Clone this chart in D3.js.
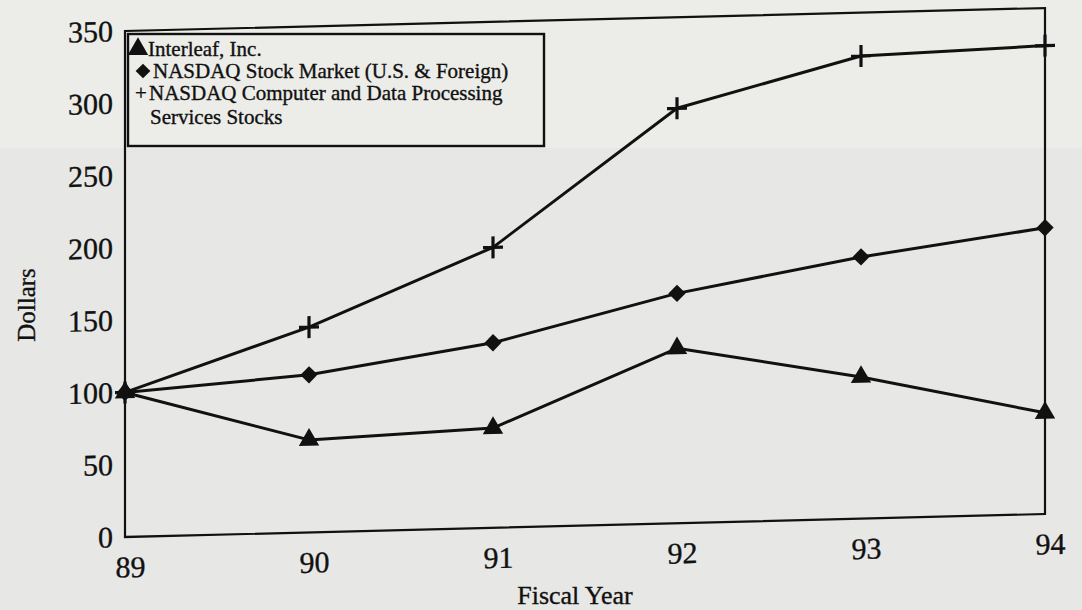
<!DOCTYPE html>
<html>
<head>
<meta charset="utf-8">
<script src="https://cdn.jsdelivr.net/npm/d3@7"></script>
<style>
  html, body { margin: 0; padding: 0; background: #e8e8e6; }
  svg { display: block; }
  text { font-family: "Liberation Serif", "Times New Roman", serif; fill: #111; stroke: #111; stroke-width: 0.35px; }
</style>
</head>
<body>
<svg id="chart" width="1082" height="610"></svg>
<script>
// ---- data ----
const years = ["89", "90", "91", "92", "93", "94"];
const interleaf = [100, 64, 69, 121, 98, 70];
const nasdaq = [100, 109, 128, 159, 181, 198];
const computerStocks = [100, 142, 194, 287, 320, 324];
const yTicks = [0, 50, 100, 150, 200, 250, 300, 350];
const legendLabels = [
  "Interleaf, Inc.",
  "NASDAQ Stock Market (U.S. & Foreign)",
  "NASDAQ Computer and Data Processing",
  "Services Stocks"
];

// ---- layout ----
const W = 1082, H = 610;
const pLeft = 125, pRight = 1045, pTop = 31, pBottom = 537;
const ink = "#111";

const svg = d3.select("#chart");
svg.append("rect").attr("width", W).attr("height", H).attr("fill", "#e7e7e5");
svg.append("rect").attr("x", 0).attr("y", 0).attr("width", W).attr("height", 148).attr("fill", "#ecece8");

const x = d3.scalePoint().domain(years).range([pLeft, pRight]).padding(0);
const y = d3.scaleLinear().domain([0, 350]).range([pBottom, pTop]);

// slight tilt of the scanned page
const g = svg.append("g")
  .attr("transform", `translate(${pLeft},${pBottom}) skewY(-1.43) translate(${-pLeft},${-pBottom})`);

// plot frame
g.append("rect")
  .attr("x", pLeft).attr("y", pTop)
  .attr("width", pRight - pLeft).attr("height", pBottom - pTop)
  .attr("fill", "none").attr("stroke", ink).attr("stroke-width", 2.2);

// y axis labels
const yAxis = d3.axisLeft(y).tickValues(yTicks).tickSize(0).tickPadding(12);
const ya = g.append("g").attr("transform", `translate(${pLeft},0)`).call(yAxis);
ya.select(".domain").remove();
ya.selectAll("text")
  .attr("font-family", "Liberation Serif, serif")
  .attr("font-size", 30).attr("fill", ink);

// x axis labels
const xAxis = d3.axisBottom(x).tickSize(0).tickPadding(19);
const xa = g.append("g").attr("transform", `translate(0,${pBottom})`).call(xAxis);
xa.select(".domain").remove();
xa.selectAll("text")
  .attr("font-family", "Liberation Serif, serif")
  .attr("font-size", 30).attr("fill", ink).attr("dx", 5);

// lines
const series = [
  { values: computerStocks, marker: "plus" },
  { values: nasdaq, marker: "diamond" },
  { values: interleaf, marker: "triangle" }
];
const line = d3.line().x((d, i) => x(years[i])).y(d => y(d));

series.forEach(s => {
  g.append("path")
    .attr("d", line(s.values))
    .attr("fill", "none").attr("stroke", ink)
    .attr("stroke-width", 3).attr("stroke-linejoin", "round");
});

function drawMarker(sel, type, cx, cy, scale = 1) {
  if (type === "triangle") {
    sel.append("path")
      .attr("d", d3.symbol(d3.symbolTriangle, 180 * scale * scale)())
      .attr("transform", `translate(${cx},${cy})`)
      .attr("fill", ink);
  } else if (type === "diamond") {
    sel.append("path")
      .attr("d", d3.symbol(d3.symbolSquare, 150 * scale * scale)())
      .attr("transform", `translate(${cx},${cy}) rotate(45)`)
      .attr("fill", ink);
  } else {
    const r = 10 * scale;
    sel.append("path")
      .attr("d", `M${cx - r},${cy}H${cx + r}M${cx},${cy - r * 1.1}V${cy + r * 1.1}`)
      .attr("stroke", ink).attr("stroke-width", 3.2).attr("fill", "none");
  }
}

series.forEach(s => {
  s.values.forEach((v, i) => drawMarker(g, s.marker, x(years[i]), y(v)));
});

// axis titles
svg.append("text")
  .attr("x", 575).attr("y", 604)
  .attr("text-anchor", "middle")
  .attr("font-size", 26)
  .text("Fiscal Year");

svg.append("text")
  .attr("transform", "translate(35,305) rotate(-90)")
  .attr("text-anchor", "middle")
  .attr("font-size", 25)
  .text("Dollars");

// legend
const lg = svg.append("g");
lg.append("rect")
  .attr("x", 128).attr("y", 34).attr("width", 416).attr("height", 112)
  .attr("fill", "#ecece8").attr("stroke", ink).attr("stroke-width", 2.4);

drawMarker(lg, "triangle", 138, 49, 1);
lg.append("text").attr("x", 148).attr("y", 56).attr("font-size", 21).text(legendLabels[0]);
drawMarker(lg, "diamond", 143, 71, 0.85);
lg.append("text").attr("x", 153).attr("y", 78).attr("font-size", 21).text(legendLabels[1]);
lg.append("text").attr("x", 135).attr("y", 100).attr("font-size", 21).text("+");
lg.append("text").attr("x", 149).attr("y", 100).attr("font-size", 21).text(legendLabels[2]);
lg.append("text").attr("x", 150).attr("y", 124).attr("font-size", 21).text(legendLabels[3]);
</script>
</body>
</html>
